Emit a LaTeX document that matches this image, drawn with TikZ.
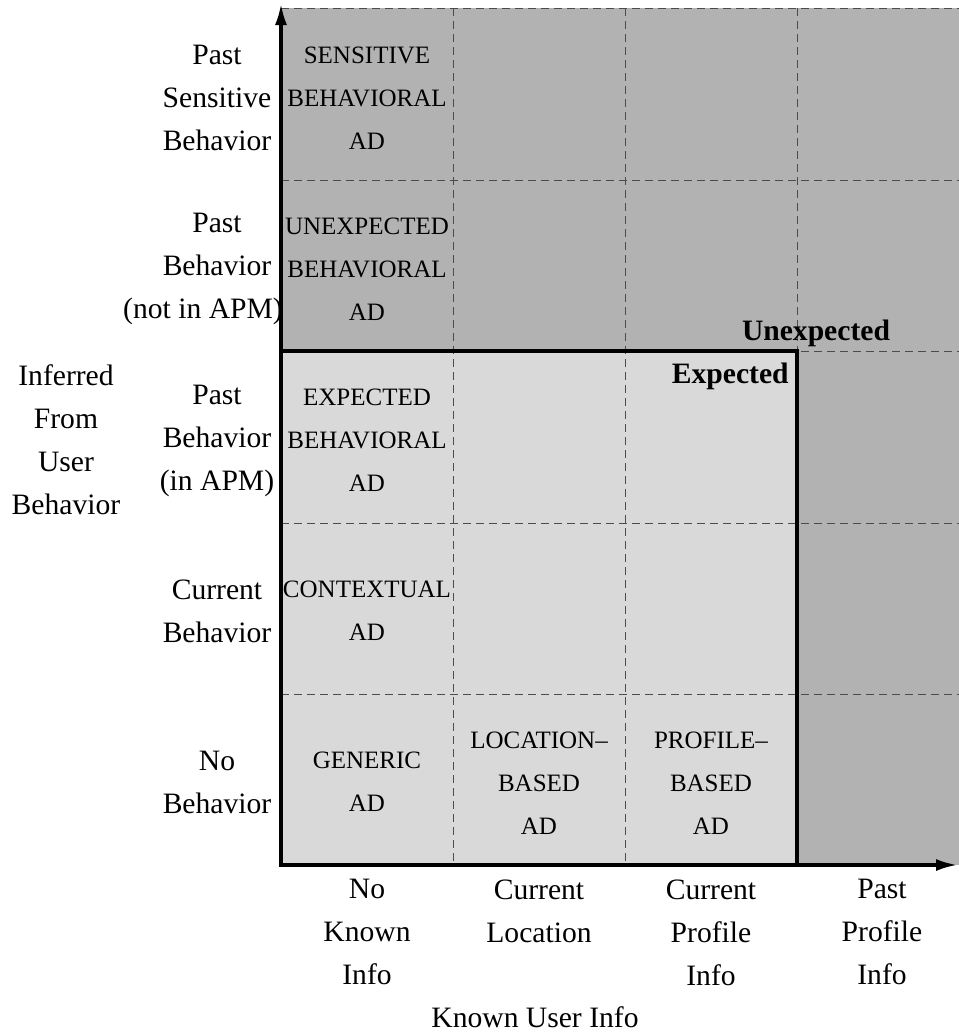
\documentclass[tikz,border=0pt]{standalone}
\usepackage{fontspec}
\setmainfont{Liberation Serif}
\usetikzlibrary{arrows.meta}
\definecolor{zonedark}{gray}{0.70}
\definecolor{zonelight}{gray}{0.85}
\definecolor{gridgray}{gray}{0.30}
\begin{document}
\begin{tikzpicture}[x=0.5pt,y=-0.5pt,>={Latex[length=11pt,width=6pt]}, line join=miter,
	lbl/.style={font=\fontsize{14.8}{21.5}\selectfont, align=center, inner sep=0pt},
	cell/.style={font=\fontsize{12.5}{21.5}\selectfont, align=center, inner sep=0pt},
	gridline/.style={gridgray, line width=0.5pt, dash pattern=on 4pt off 2.5pt}]
	\def\xo{281} \def\xe{959} % x: axis, right edge
	\def\yt{8} \def\yo{865} % y: top, axis
	\useasboundingbox (0,0) rectangle (959,1035);
	% zones
	\fill[zonedark] (\xo,\yt) rectangle (\xe,\yo);
	\fill[zonelight] (\xo,351) rectangle (797,\yo);
	\foreach \x in {453,625,797} \draw[gridline] (\x,\yt) -- (\x,\yo);
	\foreach \y in {8,180,351,523,694} \draw[gridline] (\xo,\y) -- (\xe,\y);
	\draw[line width=2pt] (\xo,351) rectangle (797,\yo);
	% axes
	\draw[->, line width=1.8pt] (\xo,\yo) -- (\xo,3);
	\draw[->, line width=1.8pt] (\xo,\yo) -- (958,\yo);
	\node[lbl, font=\fontsize{14.8}{21.5}\selectfont\bfseries, anchor=base] (unexp) at (816,340) {Unexpected};
	\node[lbl, font=\fontsize{14.8}{21.5}\selectfont\bfseries, anchor=base east] (exp) at (789,383) {Expected};
	% row labels
	\node[lbl] (inferred) at (66,440) {Inferred\\From\\User\\Behavior};
	\node[lbl] (rsens) at (217,98) {Past\\Sensitive\\Behavior};
	\node[lbl] (rnotapm) at (217,269) {Past\\Behavior\\(not in APM)\hspace*{14pt}};
	\node[lbl] (rapm) at (217,441) {Past\\Behavior\\(in APM)};
	\node[lbl] (rcur) at (217,611) {Current\\Behavior};
	\node[lbl] (rno) at (217,782) {No\\Behavior};
	% column labels
	\node[lbl, anchor=north] (cno) at (367,879) {No\\Known\\Info};
	\node[lbl, anchor=north] (cloc) at (539,879) {Current\\Location};
	\node[lbl, anchor=north] (cprof) at (711,879) {Current\\Profile\\Info};
	\node[lbl, anchor=north] (cpast) at (882,879) {Past\\Profile\\Info};
	\node[lbl] (known) at (535,1017) {Known User Info};
	% cells
	\node[cell] (sensad) at (367,98) {SENSITIVE\\BEHAVIORAL\\AD};
	\node[cell] (unexpad) at (367,269) {UNEXPECTED\\BEHAVIORAL\\AD};
	\node[cell] (expad) at (367,440) {EXPECTED\\BEHAVIORAL\\AD};
	\node[cell] (ctxad) at (367,611) {CONTEXTUAL\\AD};
	\node[cell] (genad) at (367,782) {GENERIC\\AD};
	\node[cell] (locad) at (539,783) {LOCATION–\\BASED\\AD};
	\node[cell] (profad) at (711,783) {PROFILE–\\BASED\\AD};
\end{tikzpicture}
\end{document}
